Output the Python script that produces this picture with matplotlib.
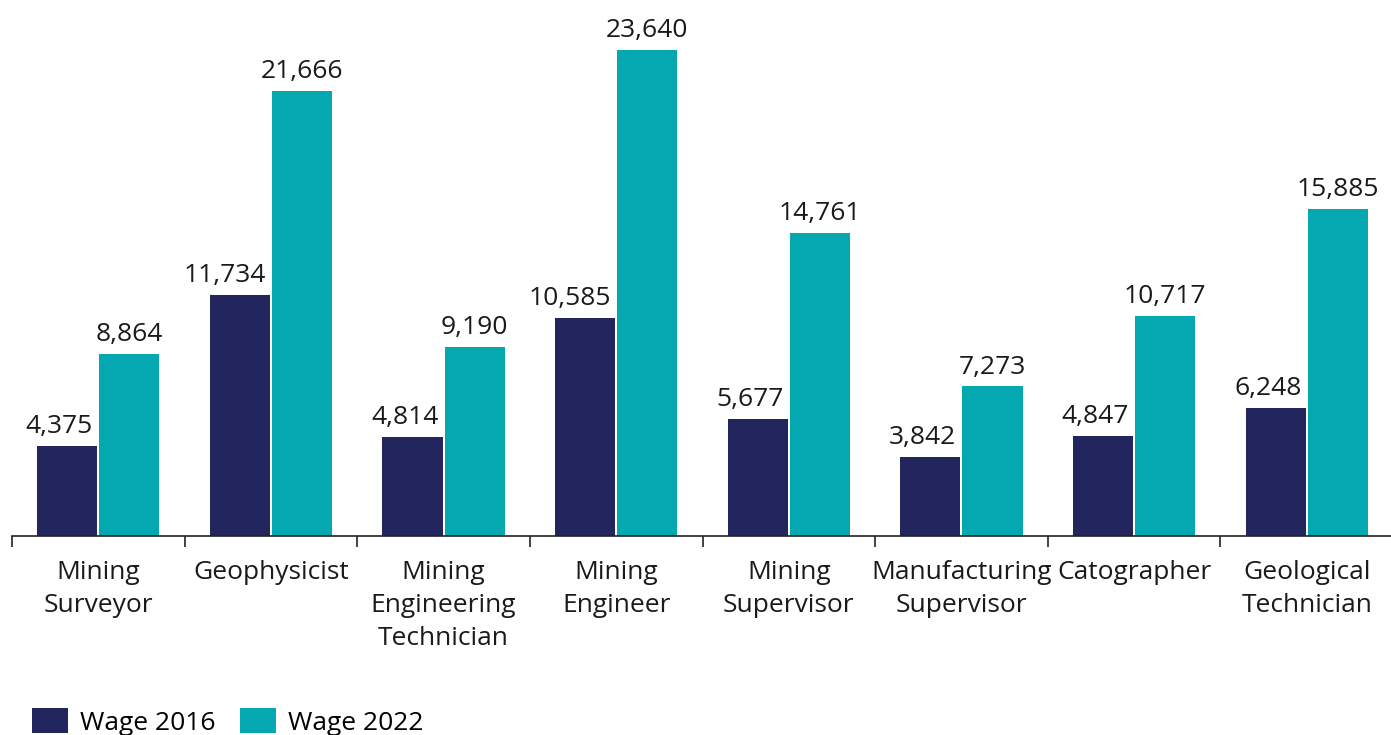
import matplotlib
matplotlib.use("Agg")
import matplotlib.pyplot as plt
from matplotlib.patches import Patch
import numpy as np

occupations = ["Mining\nSurveyor", "Geophysicist", "Mining\nEngineering\nTechnician",
               "Mining\nEngineer", "Mining\nSupervisor", "Manufacturing\nSupervisor",
               "Catographer", "Geological\nTechnician"]
wage_2016 = [4375, 11734, 4814, 10585, 5677, 3842, 4847, 6248]
wage_2022 = [8864, 21666, 9190, 23640, 14761, 7273, 10717, 15885]
series_names = ["Wage 2016", "Wage 2022"]

NAVY = "#23265E"
TEAL = "#03A8B0"
TEXT = "#1a1a1a"

plt.rcParams["font.family"] = ["Open Sans", "DejaVu Sans"]
FS = 19

fig = plt.figure(figsize=(13.91, 7.35), dpi=100)
W, H = 1391, 735
ax = fig.add_axes([12 / W, (H - 536) / H, 1381 / W, 516 / H])

x = np.arange(len(occupations))
bw = 0.348
gap = 0.006
b1 = ax.bar(x - bw / 2 - gap, wage_2016, bw, color=NAVY, zorder=2)
b2 = ax.bar(x + bw / 2 + gap, wage_2022, bw, color=TEAL, zorder=2)

# 2016 labels are pulled left so they don't run into the neighbouring 2022 bar
for rect, v in zip(b1, wage_2016):
    ax.annotate(f"{v:,}", (rect.get_x() + rect.get_width(), v),
                xytext=(-3, 5), textcoords="offset points",
                ha="right", va="bottom", fontsize=FS, color=TEXT)
for rect, v in zip(b2, wage_2022):
    ax.annotate(f"{v:,}", (rect.get_x() + rect.get_width() / 2, v),
                xytext=(0, 5), textcoords="offset points",
                ha="center", va="bottom", fontsize=FS, color=TEXT)

ax.set_xlim(-0.5, len(occupations) - 0.5)
ax.set_ylim(0, 516 / 486 * 23640)

for s in ("top", "right", "left"):
    ax.spines[s].set_visible(False)
ax.spines["bottom"].set_color("#222222")
ax.spines["bottom"].set_linewidth(1.2)
ax.set_yticks([])

# boundaries between categories get the tick marks, labels sit at group centres
ax.set_xticks(np.arange(len(occupations)) - 0.5)
ax.set_xticklabels([])
ax.tick_params(axis="x", which="major", length=8, width=1.2, color="#222222")
ax.set_xticks(x, minor=True)
ax.set_xticklabels(occupations, minor=True, fontsize=FS, color=TEXT, linespacing=1.42)
ax.tick_params(axis="x", which="minor", length=0, pad=17)

handles = [Patch(facecolor=NAVY, edgecolor="none"), Patch(facecolor=TEAL, edgecolor="none")]
fig.legend(handles, series_names, loc="upper left",
           bbox_to_anchor=(32 / W, 1 - 708 / H), frameon=False, ncol=2,
           fontsize=FS, handlelength=1.36, handleheight=1.1,
           handletextpad=0.45, columnspacing=0.95, borderpad=0, borderaxespad=0)

fig.savefig("out.png", dpi=100)
